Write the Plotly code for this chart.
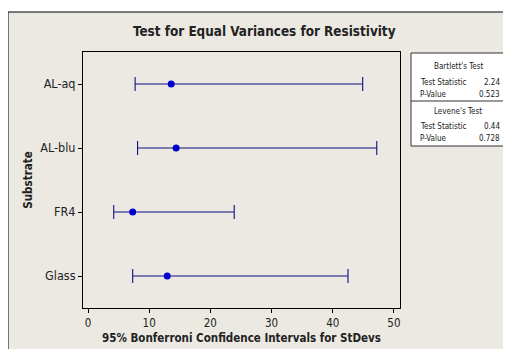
import plotly.graph_objects as go

# ---- data ----
substrates = ["AL-aq", "AL-blu", "FR4", "Glass"]
stdev = [13.6, 14.4, 7.3, 12.95]
ci_lower = [7.7, 8.1, 4.2, 7.3]
ci_upper = [44.9, 47.2, 23.9, 42.5]
x_ticks = [0, 10, 20, 30, 40, 50]
bartlett = [("Test Statistic", "2.24"), ("P-Value", "0.523")]
levene = [("Test Statistic", "0.44"), ("P-Value", "0.728")]

OFF = 8  # page body margin
W, H = 511 - OFF, 349 - OFF
# plot area in reference (window) pixels
L, R, T, B = 83, 400, 52, 308
BG = "#ECE9E2"
NAVY = "#101080"
FONT = "DejaVu Sans Condensed"

def px(p):
    return (p - L) / (R - L)

def py(p):
    return 1 - (p - T) / (B - T)

fig = go.Figure()
fig.add_trace(go.Scatter(
    x=stdev, y=substrates, mode="markers",
    marker=dict(color="#0000CC", size=7),
    error_x=dict(type="data", symmetric=False,
                 array=[u - c for u, c in zip(ci_upper, stdev)],
                 arrayminus=[c - l for c, l in zip(stdev, ci_lower)],
                 color=NAVY, thickness=1.1, width=7),
    showlegend=False, hoverinfo="x+y",
))

shapes = [
    # outer beige frame
    dict(type="rect", xref="paper", yref="paper", layer="below",
         x0=px(8), x1=px(560), y0=py(400), y1=py(12),
         fillcolor=BG, line=dict(color="black", width=1)),
    # stats box
    dict(type="rect", xref="paper", yref="paper",
         x0=px(411), x1=px(506), y0=py(146), y1=py(53),
         fillcolor="white", line=dict(color="#333333", width=1)),
    dict(type="line", xref="paper", yref="paper",
         x0=px(411), x1=px(506), y0=py(101), y1=py(101),
         line=dict(color="#333333", width=1)),
]

ann = [
    dict(text="<b>Test for Equal Variances for Resistivity</b>", x=px(264), y=py(31),
         font=dict(size=13.4)),
    dict(text="Bartlett's Test", x=px(458), y=py(66), font=dict(size=8)),
    dict(text="Levene's Test", x=px(458), y=py(111), font=dict(size=8)),
]
rows = [(bartlett[0], 82), (bartlett[1], 94), (levene[0], 126), (levene[1], 138)]
for (lab, val), yy in rows:
    ann.append(dict(text=lab, x=px(418), y=py(yy), xanchor="left", font=dict(size=8)))
    ann.append(dict(text=val, x=px(502), y=py(yy), xanchor="right", font=dict(size=8)))
for a in ann:
    a.setdefault("xref", "paper")
    a.setdefault("yref", "paper")
    a.setdefault("showarrow", False)
    a.setdefault("xanchor", "center")
    a.setdefault("yanchor", "middle")
    f = a["font"]
    f.setdefault("family", FONT)
    f.setdefault("color", "#222222")

fig.update_layout(
    width=W, height=H,
    margin=dict(l=L - OFF, r=W - (R - OFF), t=T - OFF, b=H - (B - OFF)),
    paper_bgcolor="white", plot_bgcolor="white",
    font=dict(family=FONT, size=11.5, color="#222222"),
    shapes=shapes, annotations=ann,
    xaxis=dict(range=[-0.82, 51.0], tickvals=x_ticks, ticks="outside", ticklen=4,
               tickcolor="black", showgrid=False, zeroline=False, automargin=False,
               showline=True, linecolor="black", mirror=True,
               tickfont=dict(size=11.5),
               title=dict(text="<b>95% Bonferroni Confidence Intervals for StDevs</b>",
                          font=dict(size=11.5), standoff=5)),
    yaxis=dict(categoryorder="array", categoryarray=substrates, range=[3.5, -0.5],
               ticks="outside", ticklen=4, tickcolor="black", showgrid=False,
               zeroline=False, showline=True, linecolor="black", mirror=True,
               automargin=False, tickfont=dict(size=12.5),
               title=dict(text="<b>Substrate</b>", font=dict(size=11.5), standoff=5)),
)

fig.write_html("out.html")
